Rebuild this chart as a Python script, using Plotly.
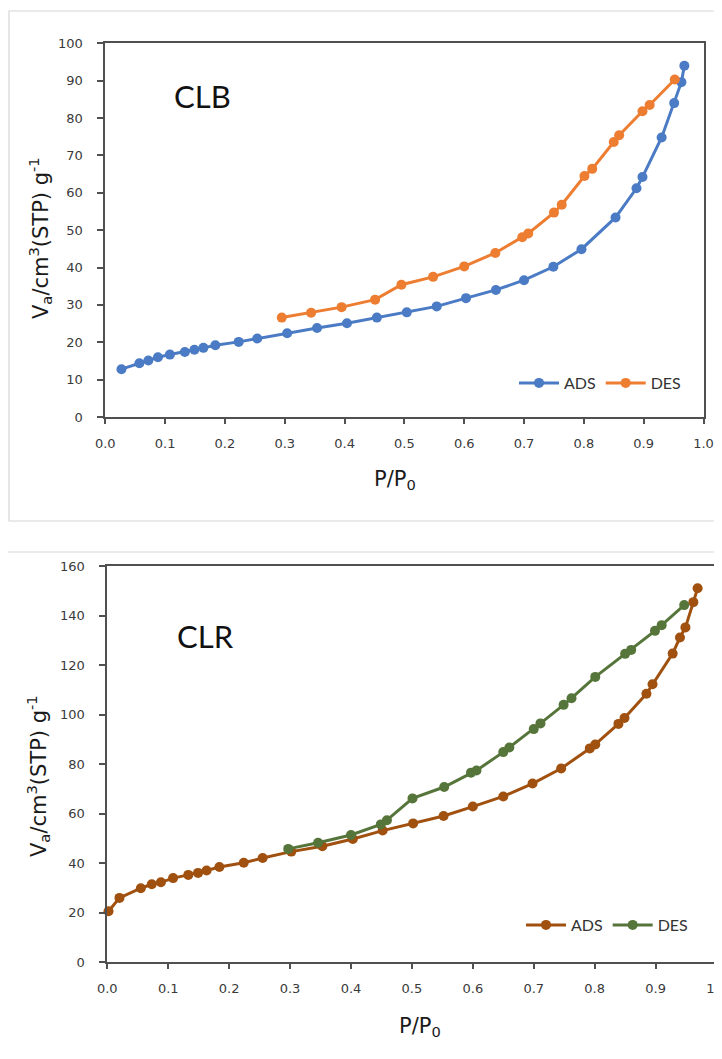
import plotly.graph_objects as go

W, H = 722, 1059
OFF = 8  # page body margin that offsets the figure in the browser

# ---------------- data: CLB (top) ----------------
clb_ads_x = [0.027, 0.057, 0.072, 0.088, 0.108, 0.133, 0.149, 0.164, 0.184, 0.223, 0.254,
             0.304, 0.354, 0.404, 0.454, 0.504, 0.554, 0.603, 0.653, 0.700, 0.749, 0.796,
             0.853, 0.888, 0.898, 0.930, 0.951, 0.963, 0.968]
clb_ads_y = [12.8, 14.4, 15.1, 16.0, 16.7, 17.4, 18.0, 18.5, 19.2, 20.1, 21.0,
             22.4, 23.8, 25.1, 26.6, 28.0, 29.6, 31.8, 34.0, 36.6, 40.2, 44.9,
             53.4, 61.2, 64.2, 74.8, 84.0, 89.6, 94.0]
clb_des_x = [0.295, 0.344, 0.395, 0.451, 0.495, 0.548, 0.600, 0.652, 0.697, 0.707, 0.750,
             0.763, 0.801, 0.814, 0.850, 0.859, 0.898, 0.910, 0.952]
clb_des_y = [26.6, 27.9, 29.4, 31.4, 35.4, 37.5, 40.3, 43.9, 48.1, 49.1, 54.7,
             56.8, 64.5, 66.4, 73.6, 75.4, 81.8, 83.5, 90.3]

# ---------------- data: CLR (bottom) ----------------
clr_ads_x = [0.002, 0.020, 0.055, 0.073, 0.088, 0.108, 0.133, 0.149, 0.163, 0.184, 0.224,
             0.255, 0.302, 0.353, 0.403, 0.452, 0.502, 0.552, 0.600, 0.650, 0.698, 0.745,
             0.792, 0.801, 0.839, 0.849, 0.885, 0.895, 0.928, 0.940, 0.949, 0.962, 0.969]
clr_ads_y = [20.5, 25.9, 29.8, 31.4, 32.2, 33.9, 35.2, 36.0, 37.0, 38.4, 40.1,
             42.0, 44.6, 46.8, 49.7, 53.1, 56.0, 59.0, 62.8, 66.9, 72.1, 78.2,
             86.3, 87.9, 96.2, 98.6, 108.4, 112.2, 124.6, 131.1, 135.2, 145.4, 151.0]
clr_des_x = [0.297, 0.346, 0.400, 0.449, 0.459, 0.501, 0.553, 0.597, 0.606, 0.650, 0.660,
             0.700, 0.711, 0.749, 0.762, 0.801, 0.850, 0.860, 0.899, 0.910, 0.947]
clr_des_y = [45.7, 48.2, 51.3, 55.6, 57.3, 66.1, 70.7, 76.5, 77.4, 84.8, 86.7,
             94.1, 96.4, 103.9, 106.6, 115.2, 124.5, 126.1, 133.8, 136.1, 144.2]

x_ticks = [0.0, 0.1, 0.2, 0.3, 0.4, 0.5, 0.6, 0.7, 0.8, 0.9, 1.0]
x_tick_text = ["0.0", "0.1", "0.2", "0.3", "0.4", "0.5", "0.6", "0.7", "0.8", "0.9", "1.0"]
clb_y_ticks = [0, 10, 20, 30, 40, 50, 60, 70, 80, 90, 100]
clr_y_ticks = [0, 20, 40, 60, 80, 100, 120, 140, 160]

BLUE, ORANGE = "#4A7BC4", "#ED7D31"
BROWN, GREEN = "#A0500F", "#56753A"

def px_x(p):
    return (p - OFF) / W

def px_y(p):
    return 1 - (p - OFF) / H

fig = go.Figure()

def add(x, y, name, color, xa, ya, legend):
    fig.add_trace(go.Scatter(
        x=x, y=y, name=name, mode="lines+markers", xaxis=xa, yaxis=ya, legend=legend,
        line=dict(color=color, width=3), marker=dict(color=color, size=10),
        cliponaxis=False, showlegend=True))

add(clb_ads_x, clb_ads_y, "ADS", BLUE, "x", "y", "legend")
add(clb_des_x, clb_des_y, "DES", ORANGE, "x", "y", "legend")
add(clr_ads_x, clr_ads_y, "ADS", BROWN, "x2", "y2", "legend2")
add(clr_des_x, clr_des_y, "DES", GREEN, "x2", "y2", "legend2")

AXC = "#505050"
tickfont = dict(family="DejaVu Sans", size=13, color="#3a3a3a")

def xaxis(domain, anchor):
    return dict(domain=domain, anchor=anchor, range=[0, 1], tickvals=x_ticks, ticktext=x_tick_text,
                showline=True, linecolor=AXC, linewidth=1.7, mirror=True, ticks="outside",
                ticklen=5, tickwidth=1.7, tickcolor=AXC, showgrid=False, zeroline=False,
                tickfont=tickfont, ticklabelstandoff=9, fixedrange=True, automargin=False)

def yaxis(domain, anchor, rng, ticks):
    return dict(domain=domain, anchor=anchor, range=rng, tickvals=ticks,
                showline=True, linecolor=AXC, linewidth=1.7, mirror=True, ticks="outside",
                ticklen=6, tickwidth=1.7, tickcolor=AXC, showgrid=False, zeroline=False,
                tickfont=tickfont, ticklabelstandoff=12, fixedrange=True, automargin=False)

legfont = dict(family="Lato", size=16, color="#333333")

fig.update_layout(
    width=W, height=H, autosize=False,
    margin=dict(l=0, r=0, t=0, b=0, pad=0, autoexpand=False),
    paper_bgcolor="white", plot_bgcolor="white",
    xaxis=xaxis([px_x(105.3), px_x(703.5)], "y"),
    yaxis=yaxis([px_y(417), px_y(43.3)], "x", [0, 100], clb_y_ticks),
    xaxis2=xaxis([px_x(107.3), px_x(716.5)], "y2"),
    yaxis2=yaxis([px_y(962), px_y(566)], "x2", [0, 160], clr_y_ticks),
    legend=dict(orientation="h", x=px_x(514), y=px_y(383), xanchor="left", yanchor="middle",
                font=legfont, bgcolor="rgba(0,0,0,0)", itemwidth=40),
    legend2=dict(orientation="h", x=px_x(521), y=px_y(925), xanchor="left", yanchor="middle",
                 font=legfont, bgcolor="rgba(0,0,0,0)", itemwidth=40),
    shapes=[
        dict(type="rect", xref="paper", yref="paper", x0=px_x(9), x1=1.05,
             y0=px_y(521), y1=px_y(11), line=dict(color="#d6d6d6", width=1.2), layer="below"),
        dict(type="rect", xref="paper", yref="paper", x0=px_x(3.5), x1=1.05,
             y0=-0.05, y1=px_y(552), line=dict(color="#d6d6d6", width=1.2), layer="below"),
    ],
)

titlefont = dict(family="DejaVu Sans", size=21, color="#1a1a1a")
ytitle = "V<sub>a</sub>/cm<sup>3</sup>(STP) g<sup>-1</sup>"
xtitle = "P/P<sub>0</sub>"
annos = [
    dict(text="CLB", x=px_x(202), y=px_y(96), font=dict(family="Lato", size=31, color="#111111")),
    dict(text="CLR", x=px_x(205), y=px_y(636), font=dict(family="Lato", size=31, color="#111111")),
    dict(text=xtitle, x=px_x(395), y=px_y(480), font=titlefont),
    dict(text=xtitle, x=px_x(420), y=px_y(1027), font=titlefont),
    dict(text=ytitle, x=px_x(40), y=px_y(238), font=titlefont, textangle=-90),
    dict(text=ytitle, x=px_x(38), y=px_y(776), font=titlefont, textangle=-90),
]
for a in annos:
    fig.add_annotation(xref="paper", yref="paper", xanchor="center", yanchor="middle",
                       showarrow=False, **a)

fig.write_html("out.html", config={"responsive": False})
